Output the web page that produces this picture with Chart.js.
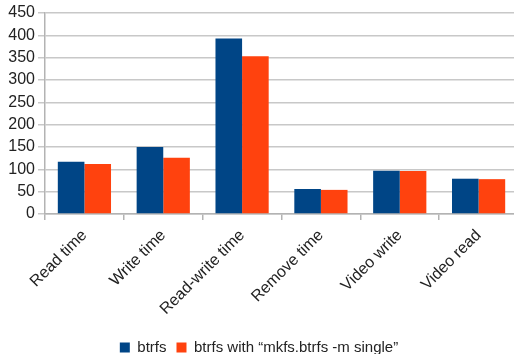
<!DOCTYPE html>
<html>
<head>
<meta charset="utf-8">
<script src="https://cdn.jsdelivr.net/npm/chart.js@4/dist/chart.umd.min.js"></script>
<style>
html,body{margin:0;padding:0;background:#fff;overflow:hidden;}
#wrap{position:relative;width:518px;height:354px;}
</style>
</head>
<body>
<div id="wrap"><canvas id="c"></canvas></div>
<script>
const categories = ["Read time", "Write time", "Read-write time", "Remove time", "Video write", "Video read"];
const btrfs = [117, 150, 393, 56, 97, 79];
const btrfsSingle = [112, 126, 353, 54, 96, 78];
const seriesNames = ["btrfs", "btrfs with \u201cmkfs.btrfs -m single\u201d"];
const yTicks = [0, 50, 100, 150, 200, 250, 300, 350, 400, 450];

const FONT = "'Liberation Sans', Arial, sans-serif";
new Chart(document.getElementById('c'), {
  type: 'bar',
  data: {
    labels: categories,
    datasets: [
      {label: seriesNames[0], data: btrfs, backgroundColor: '#004586', borderWidth: 0},
      {label: seriesNames[1], data: btrfsSingle, backgroundColor: '#ff420e', borderWidth: 0}
    ]
  },
  options: {
    responsive: true,
    maintainAspectRatio: false,
    animation: false,
    datasets: {bar: {categoryPercentage: 0.675, barPercentage: 1}},
    layout: {padding: {left: 0, right: 0, top: 13, bottom: -11}},
    plugins: {
      tooltip: {enabled: false},
      legend: {
        position: 'bottom',
        labels: {boxWidth: 10, boxHeight: 10, padding: 10, color: '#222', font: {family: FONT, size: 15}}
      }
    },
    scales: {
      x: {
        afterFit: (axis) => { axis.height = 116; },
        grid: {display: true, drawOnChartArea: false, offset: true, color: '#b3b3b3', lineWidth: 1.5, tickLength: 6},
        border: {color: '#b3b3b3', width: 1.5},
        ticks: {maxRotation: 45, minRotation: 45, color: '#222', font: {family: FONT, size: 16}, padding: 6}
      },
      y: {
        min: 0, max: 450,
        afterFit: (axis) => { axis.width = 45; },
        afterBuildTicks: (axis) => { axis.ticks = yTicks.map(v => ({value: v})); },
        grid: {color: '#c8c8c8', lineWidth: 1.5, tickLength: 7},
        border: {color: '#b3b3b3', width: 1.5},
        ticks: {autoSkip: false, color: '#222', font: {family: FONT, size: 16}, padding: 3}
      }
    }
  }
});
</script>
</body>
</html>
